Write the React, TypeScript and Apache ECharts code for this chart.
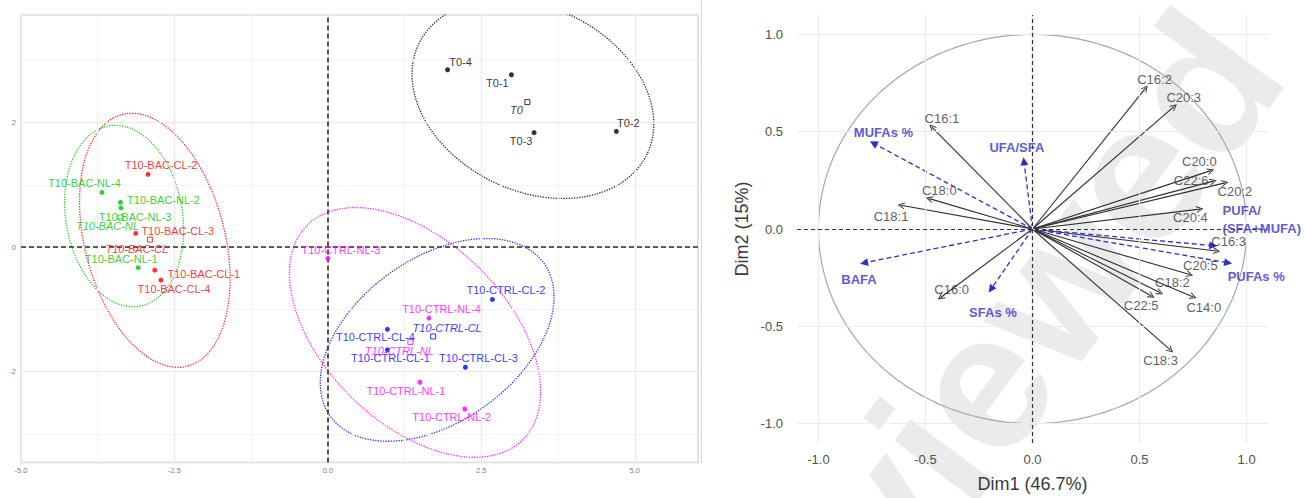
import { useEffect, useRef } from 'react';
import * as echarts from 'echarts';

const FONT = '"Liberation Sans", Arial, Helvetica, sans-serif';

// ---------- Individuals map (left panel) ----------
const groupNames = ['T0', 'T10-BAC-CL', 'T10-BAC-NL', 'T10-CTRL-CL', 'T10-CTRL-NL'];
const groupColors = ['#000000', '#ff0000', '#00c400', '#0000ff', '#ff00ff'];

const t0Names = ['T0-1', 'T0-2', 'T0-3', 'T0-4'];
const t0Dim1 = [2.99, 4.7, 3.36, 1.95];
const t0Dim2 = [2.77, 1.86, 1.84, 2.85];

const bacClNames = ['T10-BAC-CL-1', 'T10-BAC-CL-2', 'T10-BAC-CL-3', 'T10-BAC-CL-4'];
const bacClDim1 = [-2.82, -2.93, -3.13, -2.72];
const bacClDim2 = [-0.37, 1.17, 0.22, -0.53];

const bacNlNames = ['T10-BAC-NL-1', 'T10-BAC-NL-2', 'T10-BAC-NL-3', 'T10-BAC-NL-4'];
const bacNlDim1 = [-3.09, -3.38, -3.37, -3.68];
const bacNlDim2 = [-0.33, 0.72, 0.63, 0.88];

const ctrlClNames = ['T10-CTRL-CL-1', 'T10-CTRL-CL-2', 'T10-CTRL-CL-3', 'T10-CTRL-CL-4'];
const ctrlClDim1 = [0.97, 2.68, 2.24, 0.97];
const ctrlClDim2 = [-1.65, -0.84, -1.93, -1.32];

const ctrlNlNames = ['T10-CTRL-NL-1', 'T10-CTRL-NL-2', 'T10-CTRL-NL-3', 'T10-CTRL-NL-4'];
const ctrlNlDim1 = [1.5, 2.23, 0.0, 1.645];
const ctrlNlDim2 = [-2.17, -2.6, -0.18, -1.14];

// label offsets in px (text centre relative to the point)
const t0LabelOffsets = [[-14, 8], [12, -8], [-13, 8], [13, -8]];
const bacClLabelOffsets = [[49, 4], [13, -9], [42, -2], [13, 9]];
const bacNlLabelOffsets = [[-17, -9], [43, -2], [14, 9], [-17.5, -9]];
const ctrlClLabelOffsets = [[3, 8], [13.5, -9], [13, -9], [-12, 8]];
const ctrlNlLabelOffsets = [[-14, 9], [-13, 8], [13, -8], [12.7, -9]];
const centroidLabelOffsets = [[-11, 8], [-13, 9], [-13, 8], [14, -8], [-11, 9]];

// concentration ellipses: centre, semi-axes and rotation (degrees)
const ellipseCx = [3.34, -2.82, -3.32, 1.78, 1.42];
const ellipseCy = [2.38, 0.11, 0.5, -1.49, -1.37];
const ellipseA = [2.06, 2.09, 1.47, 2.13, 2.46];
const ellipseB = [1.48, 1.14, 0.95, 1.32, 1.47];
const ellipseAngle = [-24.9, -75.05, -80.2, 34.8, -43.8];

const indXMajor = [-5, -2.5, 0, 2.5, 5];
const indXMinor = [-3.75, -1.25, 1.25, 3.75];
const indYMajor = [-2, 0, 2];
const indYMinor = [-3, -1, 1, 3];

// ---------- Variables correlation circle (right panel) ----------
const varNames = ['C14:0', 'C16:0', 'C16:1', 'C16:2', 'C16:3', 'C18:0', 'C18:1', 'C18:2',
  'C18:3', 'C20:0', 'C20:2', 'C20:3', 'C20:4', 'C20:5', 'C22:5', 'C22:6'];
const varDim1 = [0.751, -0.429, -0.47, 0.528, 0.86, -0.482, -0.614, 0.595,
  0.645, 0.833, 0.899, 0.662, 0.782, 0.735, 0.556, 0.844];
const varDim2 = [-0.349, -0.352, 0.524, 0.724, -0.113, 0.156, 0.122, -0.327,
  -0.623, 0.3, 0.237, 0.63, 0.102, -0.234, -0.344, 0.246];
const varLabelOffsets = [[10.5, 10.7], [11, -8], [10, -9], [9, -9], [12, -9], [10, -8], [-10, 11], [12.5, -10],
  [-10, 10.7], [-11.5, -9.4], [10, 9], [9.5, -9], [-9.5, 8.6], [10.5, -9.4], [-10.4, 10], [-22, -0.6]];

const supNames = ['MUFAs %', 'UFA/SFA', 'PUFA/\n(SFA+MUFA)', 'PUFAs %', 'BAFA', 'SFAs %'];
const supDim1 = [-0.743, -0.04, 0.844, 0.914, -0.787, -0.194];
const supDim2 = [0.441, 0.348, -0.086, -0.174, -0.174, -0.31];
const supLabelOffsets = [[10, -11], [-7, -14], [9.4, -26], [28, 14], [-5, 17], [2, 23]];

const varTicks = [-1, -0.5, 0, 0.5, 1];

const WATERMARK = 'Not Peer-reviewed';

const SUP_BLUE = '#2f2fcc';
const CHEVRON = 'path://M0,10 L5,0 L10,10 L8.5,10 L5,3 L1.5,10 Z';

function ellipsePoints(i: number): number[][] {
  const pts: number[][] = [];
  const phi = (ellipseAngle[i] * Math.PI) / 180;
  const n = 160;
  for (let k = 0; k <= n; k++) {
    const t = (2 * Math.PI * k) / n;
    const ex = ellipseA[i] * Math.cos(t);
    const ey = ellipseB[i] * Math.sin(t);
    pts.push([
      ellipseCx[i] + ex * Math.cos(phi) - ey * Math.sin(phi),
      ellipseCy[i] + ex * Math.sin(phi) + ey * Math.cos(phi),
    ]);
  }
  return pts;
}

function circlePoints(): number[][] {
  const pts: number[][] = [];
  const n = 240;
  for (let k = 0; k <= n; k++) {
    const t = (2 * Math.PI * k) / n;
    pts.push([Math.cos(t), Math.sin(t)]);
  }
  return pts;
}

function mean(a: number[]) {
  return a.reduce((s, v) => s + v, 0) / a.length;
}

function buildOption() {
  const groups = [
    { names: t0Names, d1: t0Dim1, d2: t0Dim2, off: t0LabelOffsets },
    { names: bacClNames, d1: bacClDim1, d2: bacClDim2, off: bacClLabelOffsets },
    { names: bacNlNames, d1: bacNlDim1, d2: bacNlDim2, off: bacNlLabelOffsets },
    { names: ctrlClNames, d1: ctrlClDim1, d2: ctrlClDim2, off: ctrlClLabelOffsets },
    { names: ctrlNlNames, d1: ctrlNlDim1, d2: ctrlNlDim2, off: ctrlNlLabelOffsets },
  ];

  const series: any[] = [];

  // grid lines + tick labels of the individuals map
  const indLabelStyle = { fontSize: 7.5, color: '#808080', fontFamily: FONT };
  series.push({
    type: 'line', xAxisIndex: 0, yAxisIndex: 0, data: [], z: 1, silent: true,
    markLine: {
      silent: true, symbol: ['none', 'none'], animation: false,
      lineStyle: { color: '#eeeeee', width: 1, type: 'solid' },
      label: { show: false },
      emphasis: { disabled: true },
      data: [
        ...indXMinor.map((v) => ({ xAxis: v, lineStyle: { color: '#f3f3f3', width: 1, type: 'solid' } })),
        ...indYMinor.map((v) => ({ yAxis: v, lineStyle: { color: '#f3f3f3', width: 1, type: 'solid' } })),
        ...indXMajor.map((v) => ({
          xAxis: v, lineStyle: { color: '#e9e9e9', width: 1.2, type: 'solid' },
          label: { show: true, position: 'start', distance: 4, formatter: v.toFixed(1), ...indLabelStyle },
        })),
        ...indYMajor.map((v) => ({
          yAxis: v, lineStyle: { color: '#e9e9e9', width: 1.2, type: 'solid' },
          label: { show: true, position: 'start', distance: 5, formatter: String(v), ...indLabelStyle },
        })),
      ],
    },
  });
  // dashed origin lines
  series.push({
    type: 'line', xAxisIndex: 0, yAxisIndex: 0, data: [], z: 3, silent: true,
    markLine: {
      silent: true, symbol: ['none', 'none'], animation: false,
      lineStyle: { color: '#2b2b2b', width: 1.6, type: [5, 3] },
      label: { show: false },
      data: [{ xAxis: 0 }, { yAxis: 0 }],
    },
  });

  groups.forEach((g, gi) => {
    const color = groupColors[gi];
    series.push({
      type: 'line', xAxisIndex: 0, yAxisIndex: 0, z: 2, silent: true,
      data: ellipsePoints(gi), showSymbol: false, symbol: 'none', clip: true,
      lineStyle: { color, width: 1.3, type: [1.3, 1.3], opacity: 0.85 },
    });
    series.push({
      type: 'scatter', name: groupNames[gi], xAxisIndex: 0, yAxisIndex: 0, z: 5, silent: true,
      symbol: 'circle', symbolSize: 5, itemStyle: { color },
      label: { show: true, position: 'inside', formatter: '{b}', color, fontSize: 11, fontFamily: FONT },
      data: g.names.map((n, i) => ({
        name: n, value: [g.d1[i], g.d2[i]], label: { offset: g.off[i] },
      })),
    });
    series.push({
      type: 'scatter', xAxisIndex: 0, yAxisIndex: 0, z: 5, silent: true,
      symbol: 'rect', symbolSize: 5,
      itemStyle: { color: 'rgba(0,0,0,0)', borderColor: color, borderWidth: 1 },
      label: {
        show: true, position: 'inside', formatter: '{b}', color, fontSize: 11, fontStyle: 'italic',
        fontFamily: FONT, offset: centroidLabelOffsets[gi],
      },
      data: [{ name: groupNames[gi], value: [mean(g.d1), mean(g.d2)] }],
    });
  });

  // ---------- right panel ----------
  const varLabelStyle = { fontSize: 13, color: '#505050', fontFamily: FONT };
  series.push({
    type: 'line', xAxisIndex: 1, yAxisIndex: 1, data: [], z: 1, silent: true,
    markLine: {
      silent: true, symbol: ['none', 'none'], animation: false,
      lineStyle: { color: '#ebebeb', width: 1.2, type: 'solid' },
      label: { show: false },
      data: [
        ...varTicks.map((v) => ({
          xAxis: v,
          label: { show: true, position: 'start', distance: 10, formatter: v.toFixed(1), ...varLabelStyle },
        })),
        ...varTicks.map((v) => ({
          yAxis: v,
          label: { show: true, position: 'start', distance: 14, formatter: v.toFixed(1), ...varLabelStyle },
        })),
      ],
    },
  });
  series.push({
    type: 'line', xAxisIndex: 1, yAxisIndex: 1, data: [], z: 3, silent: true,
    markLine: {
      silent: true, symbol: ['none', 'none'], animation: false,
      lineStyle: { color: '#333333', width: 1.2, type: [4, 3] },
      label: { show: false },
      data: [{ xAxis: 0 }, { yAxis: 0 }],
    },
  });
  // unit correlation circle
  series.push({
    type: 'line', xAxisIndex: 1, yAxisIndex: 1, z: 2, silent: true,
    data: circlePoints(), showSymbol: false, symbol: 'none',
    lineStyle: { color: '#a6a6a6', width: 1.2 },
  });
  // active variables
  series.push({
    type: 'lines', coordinateSystem: 'cartesian2d', xAxisIndex: 1, yAxisIndex: 1, z: 4, silent: true,
    symbol: ['none', CHEVRON], symbolSize: 7,
    lineStyle: { color: '#2e2e2e', width: 1.1, opacity: 1 },
    data: varNames.map((n, i) => ({ name: n, coords: [[0, 0], [varDim1[i], varDim2[i]]] })),
  });
  series.push({
    type: 'scatter', xAxisIndex: 1, yAxisIndex: 1, z: 6, silent: true,
    symbolSize: 1, itemStyle: { color: 'rgba(0,0,0,0)' },
    label: { show: true, position: 'inside', formatter: '{b}', fontSize: 13, color: '#333333', fontFamily: FONT },
    data: varNames.map((n, i) => ({ name: n, value: [varDim1[i], varDim2[i]], label: { offset: varLabelOffsets[i] } })),
  });
  // supplementary variables
  series.push({
    type: 'lines', coordinateSystem: 'cartesian2d', xAxisIndex: 1, yAxisIndex: 1, z: 4, silent: true,
    symbol: ['none', 'triangle'], symbolSize: [7, 8],
    lineStyle: { color: SUP_BLUE, width: 1.3, type: [5, 3], opacity: 1 },
    data: supNames.map((n, i) => ({ name: n, coords: [[0, 0], [supDim1[i], supDim2[i]]] })),
  });
  series.push({
    type: 'scatter', xAxisIndex: 1, yAxisIndex: 1, z: 6, silent: true,
    symbolSize: 1, itemStyle: { color: 'rgba(0,0,0,0)' },
    label: {
      show: true, position: 'inside', formatter: '{b}', fontSize: 13, fontWeight: 'bold',
      color: SUP_BLUE, fontFamily: FONT, lineHeight: 18,
    },
    data: supNames.map((n, i) => ({
      name: n, value: [supDim1[i], supDim2[i]],
      label: n.includes('\n')
        ? { offset: supLabelOffsets[i], align: 'left' }
        : { offset: supLabelOffsets[i] },
    })),
  });

  const hiddenAxis = {
    type: 'value', axisLine: { show: false }, axisTick: { show: false },
    axisLabel: { show: false }, splitLine: { show: false },
  };

  return {
    animation: false,
    backgroundColor: '#ffffff',
    grid: [
      { left: 21, top: 15, width: 677, height: 447.5, show: true, borderColor: '#dcdcdc', borderWidth: 1.5, backgroundColor: 'transparent' },
      { left: 797, top: 15, width: 471, height: 432 },
    ],
    xAxis: [
      { ...hiddenAxis, gridIndex: 0, min: -5, max: 6.03 },
      {
        ...hiddenAxis, gridIndex: 1, min: -1.1, max: 1.1,
        name: 'Dim1 (46.7%)', nameLocation: 'middle', nameGap: 32,
        nameTextStyle: { fontSize: 18, color: '#3a3a3a', fontFamily: FONT },
      },
    ],
    yAxis: [
      { ...hiddenAxis, gridIndex: 0, min: -3.46, max: 3.73 },
      {
        ...hiddenAxis, gridIndex: 1, min: -1.1, max: 1.1,
        name: 'Dim2 (15%)', nameLocation: 'middle', nameGap: 46,
        nameTextStyle: { fontSize: 18, color: '#3a3a3a', fontFamily: FONT },
      },
    ],
    graphic: [
      {
        type: 'text', x: 1237, y: 37, rotation: (53.5 * Math.PI) / 180, z: 0, silent: true,
        style: {
          text: WATERMARK, fill: '#ebebeb', fontSize: 195, fontWeight: 'bold', fontFamily: FONT,
          textAlign: 'right', textVerticalAlign: 'middle',
        },
      },
      { type: 'line', shape: { x1: 701.5, y1: 0, x2: 701.5, y2: 463 }, style: { stroke: '#d6d6d6', lineWidth: 1 }, silent: true },
    ],
    series,
  };
}

export default function App() {
  const ref = useRef<HTMLDivElement>(null);
  useEffect(() => {
    if (!ref.current) return;
    const chart = echarts.init(ref.current, undefined, { renderer: 'svg' });
    chart.setOption(buildOption() as any);
    return () => chart.dispose();
  }, []);
  return (
    <div
      ref={ref}
      style={{ position: 'absolute', left: 0, top: 0, width: 1305, height: 498, background: '#fff' }}
    />
  );
}
